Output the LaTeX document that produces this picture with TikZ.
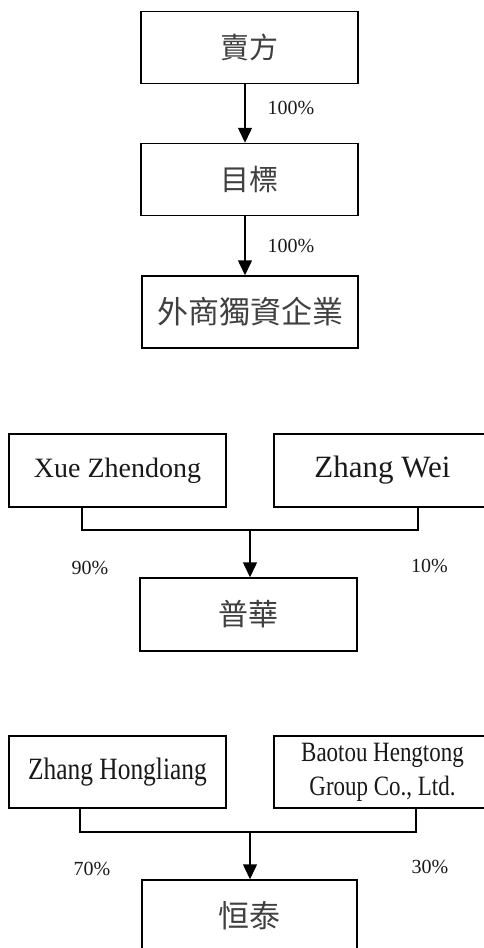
\documentclass[tikz,border=0pt]{standalone}
\usepackage{fontspec}
\setmainfont{Liberation Serif}
\newfontfamily\cjk{Noto Sans CJK TC}
\newfontfamily\condensed[FakeStretch=0.82]{Liberation Serif}
\usetikzlibrary{arrows.meta}
\tikzset{
  box/.style={draw=black, line width=1.5pt, inner sep=0pt, minimum width=217pt, minimum height=72pt, fill=white},
  cjkbox/.style={box, font=\cjk\fontsize{29}{34}\selectfont, text=black!75},
  latbox/.style={box, font=\fontsize{29}{34}\selectfont, text=black!90},
  condbox/.style={box, font=\condensed\fontsize{31}{34}\selectfont, text=black!90, align=center},
  pct/.style={anchor=base, inner sep=0pt, font=\fontsize{20}{24}\selectfont, text=black!90},
  arr/.style={line width=1.5pt, -{Triangle[width=14pt,length=15pt]}},
  conn/.style={line width=1.5pt}
}
\begin{document}
\begin{tikzpicture}[x=1pt, y=-1pt]
\useasboundingbox (0,0) rectangle (483,948);
% top chain
\node[cjkbox] (seller) at (249.5,47.5) {賣方};
\node[cjkbox] (target) at (249.5,179.5) {目標};
\node[cjkbox, minimum width=216pt, font=\cjk\fontsize{31}{34}\selectfont] (wfoe) at (250,312) {外商獨資企業};
\coordinate (ax) at (245,0);
\draw[arr] (seller.south -| ax) -- (target.north -| ax);
\draw[arr] (target.south -| ax) -- (wfoe.north -| ax);
\node[pct] (p1) at (291,114) {100\%};
\node[pct] (p2) at (291,252) {100\%};
% group 2
\node[latbox, minimum height=73pt, font=\fontsize{28}{34}\selectfont] (xue) at (117.5,470.5) {Xue Zhendong};
\node[latbox, minimum height=73pt, font=\fontsize{31}{34}\selectfont] (zw) at (382.5,470.5) {Zhang Wei};
\node[cjkbox, minimum height=73pt, font=\cjk\fontsize{30}{34}\selectfont] (puhua) at (248.5,614.5) {普華};
\coordinate (d1) at (82,530);
\coordinate (d2) at (418,530);
\coordinate (j1) at (250,530);
\draw[conn] (xue.south -| d1) -- (d1) -- (d2) -- (zw.south -| d2);
\draw[arr] (j1) -- (puhua.north -| j1);
\node[pct] (p3) at (90,574) {90\%};
\node[pct] (p4) at (429.5,572) {10\%};
% group 3
\node[condbox] (zhl) at (117.5,772) {Zhang Hongliang};
\node[condbox, font=\condensed\fontsize{28}{34}\selectfont] (bt) at (382.5,772) {Baotou Hengtong\\Group Co., Ltd.};
\node[cjkbox, minimum width=215pt, font=\cjk\fontsize{31}{34}\selectfont] (ht) at (249.5,916) {恒泰};
\coordinate (e1) at (80,832);
\coordinate (e2) at (416,832);
\coordinate (j2) at (250,832);
\draw[conn] (zhl.south -| e1) -- (e1) -- (e2) -- (bt.south -| e2);
\draw[arr] (j2) -- (ht.north -| j2);
\node[pct] (p5) at (92,875) {70\%};
\node[pct] (p6) at (430,873) {30\%};
\end{tikzpicture}
\end{document}
